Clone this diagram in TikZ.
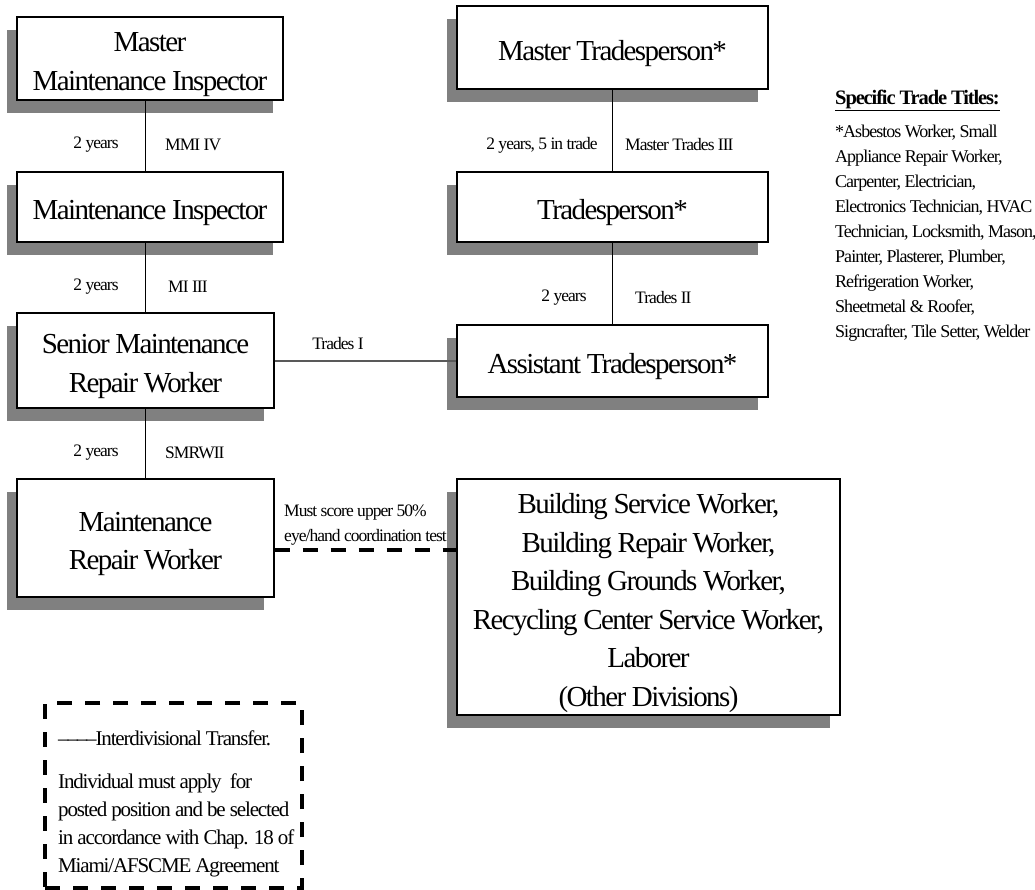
\documentclass[tikz,border=0pt]{standalone}
\usepackage{fontspec}
\setmainfont{Liberation Serif}[LetterSpace=-5.5]
\usetikzlibrary{calc,shadows}

\definecolor{shadowgray}{HTML}{808080}

\tikzset{
  x=1pt, y=-1pt,
  jobbox/.style={draw=black, line width=1.1pt, fill=white, inner sep=0pt,
    drop shadow={shadow xshift=-10pt, shadow yshift=-13pt,
      fill=shadowgray, opacity=1}},
  jobtext/.style={align=center, inner sep=0pt, yshift=-6pt,
    font=\fontsize{29pt}{38.5pt}\selectfont},
  steplabel/.style={font=\fontsize{17.5pt}{21pt}\selectfont, inner sep=0pt},
  linkline/.style={draw=black, line width=0.9pt},
  sideline/.style={draw=black!65, line width=2pt},
  xferline/.style={draw=black, line width=4.5pt, dash pattern=on 15pt off 13pt},
}

\begin{document}
\begin{tikzpicture}
\useasboundingbox (0,0) rectangle (1035,890);

% inspector / maintenance ladder
\node[jobbox, minimum width=266pt, minimum height=83pt,
  label={[jobtext]center:{Master\\Maintenance Inspector}}] (mmi) at (150,58.5) {};
\node[jobbox, minimum width=266pt, minimum height=70pt,
  label={[jobtext]center:{Maintenance Inspector}}] (mi) at (150,207) {};
\node[jobbox, minimum width=257pt, minimum height=95pt,
  label={[jobtext]center:{Senior Maintenance\\Repair Worker}}] (smrw) at (145.5,360.5) {};
\node[jobbox, minimum width=257pt, minimum height=118pt,
  label={[jobtext]center:{Maintenance\\Repair Worker}}] (mrw) at (145.5,538) {};

% trades ladder
\node[jobbox, minimum width=311pt, minimum height=83pt,
  label={[jobtext]center:{Master Tradesperson*}}] (mt) at (612.5,47.5) {};
\node[jobbox, minimum width=311pt, minimum height=70pt,
  label={[jobtext]center:{Tradesperson*}}] (tp) at (612.5,207) {};
\node[jobbox, minimum width=311pt, minimum height=72pt,
  label={[jobtext]center:{Assistant Tradesperson*}}] (at) at (612.5,361) {};

% other divisions
\node[jobbox, minimum width=383pt, minimum height=236pt,
  label={[jobtext]center:{Building Service Worker,\\ Building Repair Worker,\\
   Building Grounds Worker,\\ Recycling Center Service Worker,\\Laborer\\
   (Other Divisions)}}] (bsw) at (648.5,597) {};

% promotion lines
\draw[linkline] (mmi.south -| smrw.north) -- (mi.north -| smrw.north);
\draw[linkline] (mi.south -| smrw.north) -- (smrw.north);
\draw[linkline] (smrw.south) -- (mrw.north);
\draw[linkline] (mt.south) -- (tp.north);
\draw[linkline] (tp.south) -- (at.north);
\draw[sideline] (smrw.east) -- (smrw.east -| at.west);

% interdivisional transfer
\path ($(mrw.north east)!0.6!(mrw.south east)$) coordinate (xa);
\draw[xferline] (xa) -- (xa -| bsw.west);

% step labels
\node[steplabel] (l1a) at (96,145) {2 years};
\node[steplabel, anchor=west] (l1b) at (165,145) {MMI IV};
\node[steplabel] (l2a) at (96,287) {2 years};
\node[steplabel, anchor=west] (l2b) at (168,287) {MI III};
\node[steplabel] (l3a) at (96,453) {2 years};
\node[steplabel, anchor=west] (l3b) at (165,453) {SMRWII};
\node[steplabel] (l4a) at (542,145) {2 years, 5 in trade};
\node[steplabel, anchor=west] (l4b) at (625,145) {Master Trades III};
\node[steplabel] (l5a) at (564,298) {2 years};
\node[steplabel, anchor=west] (l5b) at (635,298) {Trades II};
\node[steplabel] (l6) at (338,344) {Trades I};
\node[steplabel, anchor=west, align=left, font=\fontsize{17.5pt}{25pt}\selectfont]
  (l7) at (284,525) {Must score upper 50\%\\eye/hand coordination test};

% trade titles list
\node[anchor=west, inner sep=0pt, font=\fontsize{20.5pt}{24pt}\selectfont\bfseries]
  (tthead) at (835,100) {\underline{Specific Trade Titles:}};
\node[anchor=west, inner sep=0pt, align=left, font=\fontsize{18pt}{25pt}\selectfont]
  (ttbody) at (835,233) {*Asbestos Worker, Small\\Appliance Repair Worker,\\
  Carpenter, Electrician,\\Electronics Technician, HVAC\\
  Technician, Locksmith, Mason,\\Painter, Plasterer, Plumber,\\
  Refrigeration Worker,\\Sheetmetal \& Roofer,\\Signcrafter, Tile Setter, Welder};

% key
\node[draw=black, line width=4.5pt, dash pattern=on 15pt off 13pt,
  minimum width=257pt, minimum height=185pt, inner sep=0pt] (key) at (173.5,795.5) {};
\node[anchor=west, inner sep=0pt, font=\fontsize{21pt}{28pt}\selectfont]
  (keyhead) at (58,738)
  {\textendash\textendash\textendash\textendash Interdivisional Transfer.};
\node[anchor=west, inner sep=0pt, align=left, font=\fontsize{21pt}{28pt}\selectfont]
  (keybody) at (58,825) {Individual must apply~ for\\posted position and be selected\\
  in accordance with Chap. 18 of\\Miami/AFSCME Agreement};
\end{tikzpicture}
\end{document}
